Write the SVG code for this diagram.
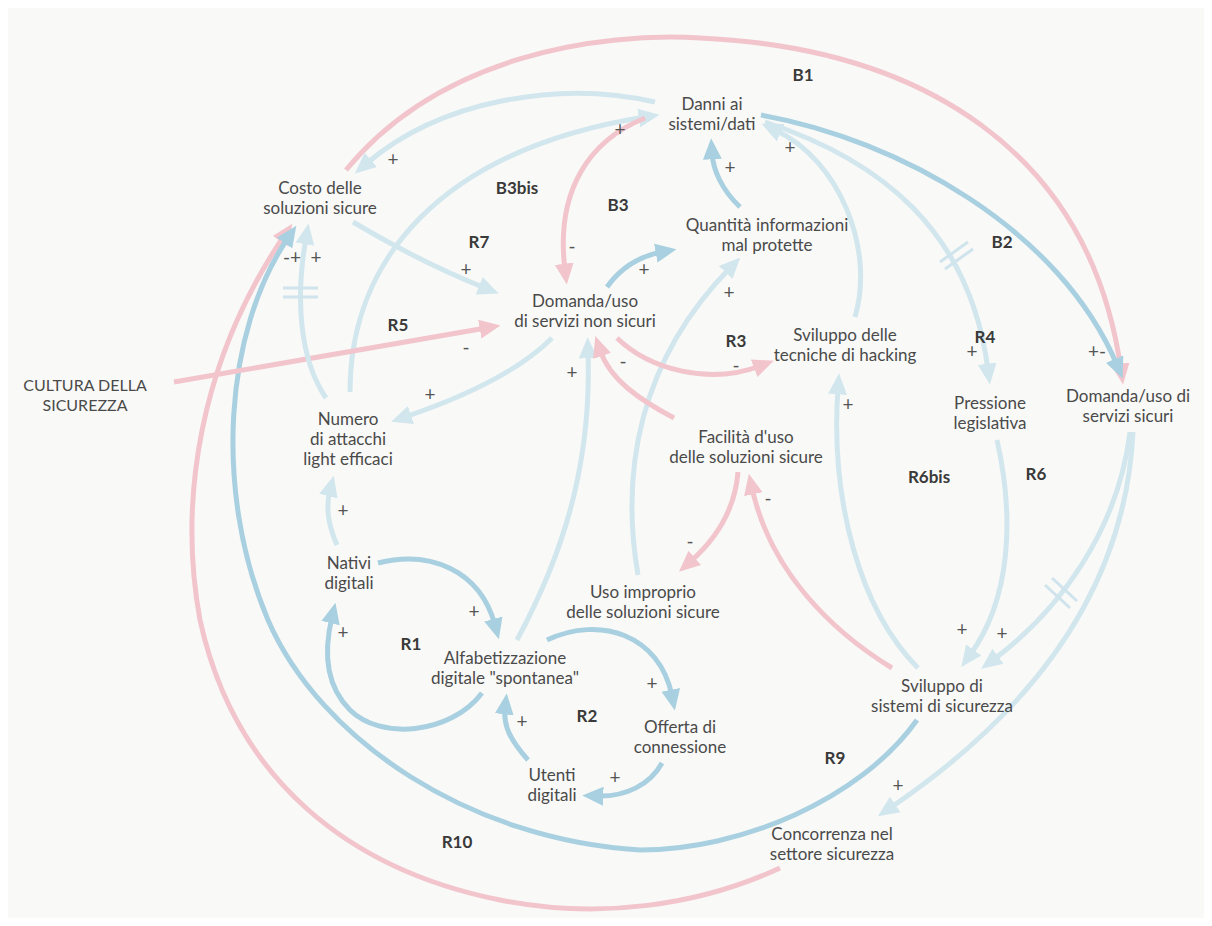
<svg xmlns="http://www.w3.org/2000/svg" width="1212" height="926" viewBox="0 0 1212 926">
<style>
.t{font-family:Lato,"Open Sans","Liberation Sans",sans-serif;font-size:17px;fill:#4a4a4a;text-anchor:middle}
.c{font-family:Lato,"Open Sans","Liberation Sans",sans-serif;font-size:16px;fill:#4a4a4a;text-anchor:middle}
.l{font-family:Lato,"Open Sans","Liberation Sans",sans-serif;font-size:17px;font-weight:bold;fill:#3a3a3a;text-anchor:middle}
.s{font-family:Lato,"Open Sans","Liberation Sans",sans-serif;font-size:19px;fill:#555;text-anchor:middle}
.lb{fill:none;stroke:#d2e6ee;stroke-width:5}
.bb{fill:none;stroke:#a8d0e0;stroke-width:5}
.pk{fill:none;stroke:#f2c5cd;stroke-width:5}
.dl{fill:none;stroke:#cfe4ec;stroke-width:3}
</style>
<defs>
<marker id="al" viewBox="0 0 20 20" refX="6" refY="10" markerWidth="21" markerHeight="21" markerUnits="userSpaceOnUse" orient="auto"><path d="M0,1 L20,10 L0,19 z" fill="#d2e6ee"/></marker>
<marker id="ab" viewBox="0 0 20 20" refX="6" refY="10" markerWidth="21" markerHeight="21" markerUnits="userSpaceOnUse" orient="auto"><path d="M0,1 L20,10 L0,19 z" fill="#a8d0e0"/></marker>
<marker id="ap" viewBox="0 0 20 20" refX="6" refY="10" markerWidth="21" markerHeight="21" markerUnits="userSpaceOnUse" orient="auto"><path d="M0,1 L20,10 L0,19 z" fill="#f2c5cd"/></marker>
</defs>
<rect width="1212" height="926" fill="#ffffff"/>
<rect x="8" y="8" width="1196" height="910" fill="#f9f9f7"/>
<g id="connectors">
<path class="pk" d="M346,170 C 440,55 600,32 700,38 C 920,48 1090,150 1121,370" marker-end="url(#ap)"/>
<path class="pk" d="M780,868 C 700,905 600,920 500,900 C 350,870 235,780 200,620 C 178,500 200,360 284,236" marker-end="url(#ap)"/>
<path class="bb" d="M917,720 C 860,800 740,850 640,850 C 470,840 320,740 268,620 C 213,490 225,330 288,238" marker-end="url(#ab)"/>
<path class="lb" d="M655,102 C 560,80 440,100 366,164" marker-end="url(#al)"/>
<path class="lb" d="M350,392 C 350,260 440,150 645,117" marker-end="url(#al)"/>
<path class="pk" d="M645,118 C 590,140 555,190 565,270" marker-end="url(#ap)"/>
<path class="lb" d="M353,222 C 400,250 440,270 485,288" marker-end="url(#al)"/>
<path class="pk" d="M174,382 L486,328" marker-end="url(#ap)"/>
<path class="lb" d="M552,338 C 520,370 470,395 405,417" marker-end="url(#al)"/>
<path class="lb" d="M326,398 C 300,360 295,300 306,238" marker-end="url(#al)"/>
<path class="lb" d="M337,545 C 328,525 326,505 330,490" marker-end="url(#al)"/>
<path class="bb" d="M378,563 C 430,550 480,570 495,625" marker-end="url(#ab)"/>
<path class="bb" d="M482,693 C 450,735 380,740 350,710 C 325,685 324,650 332,617" marker-end="url(#ab)"/>
<path class="bb" d="M547,640 C 600,615 660,635 672,696" marker-end="url(#ab)"/>
<path class="bb" d="M662,763 C 650,785 625,797 597,796" marker-end="url(#ab)"/>
<path class="bb" d="M528,760 C 510,740 503,725 505,708" marker-end="url(#ab)"/>
<path class="lb" d="M517,640 C 560,560 592,470 588,352" marker-end="url(#al)"/>
<path class="lb" d="M638,575 C 620,470 640,360 730,268" marker-end="url(#al)"/>
<path class="bb" d="M607,287 C 622,266 640,256 662,252" marker-end="url(#ab)"/>
<path class="bb" d="M740,207 C 722,190 713,170 712,153" marker-end="url(#ab)"/>
<path class="pk" d="M617,338 C 650,370 710,385 760,366" marker-end="url(#ap)"/>
<path class="pk" d="M674,418 C 640,400 610,380 600,350" marker-end="url(#ap)"/>
<path class="lb" d="M855,317 C 875,250 840,160 775,130" marker-end="url(#al)"/>
<path class="lb" d="M765,122 C 880,160 970,230 988,370" marker-end="url(#al)"/>
<path class="bb" d="M761,115 C 900,140 1060,230 1117,365" marker-end="url(#ab)"/>
<path class="lb" d="M997,440 C 1015,520 1010,600 970,655" marker-end="url(#al)"/>
<path class="lb" d="M1130,432 C 1118,530 1060,610 993,660" marker-end="url(#al)"/>
<path class="lb" d="M1133,432 C 1125,600 1020,720 890,808" marker-end="url(#al)"/>
<path class="lb" d="M918,668 C 860,610 830,500 838,388" marker-end="url(#al)"/>
<path class="pk" d="M892,668 C 830,630 770,570 752,488" marker-end="url(#ap)"/>
<path class="pk" d="M738,472 C 735,510 715,540 690,562" marker-end="url(#ap)"/>
<g id="delays">
<path class="dl" d="M283,288 L318,288 M283,297 L318,297"/>
<path class="dl" d="M940,262 L968,242 M945,269 L973,249"/>
<path class="dl" d="M1045,585 L1070,608 M1052,578 L1077,601"/>
</g>
</g>
<g id="polarity">
<text class="s" x="393" y="166">+</text>
<text class="s" x="620" y="136">+</text>
<text class="s" x="572" y="253">-</text>
<text class="s" x="466" y="276">+</text>
<text class="s" x="466" y="354">-</text>
<text class="s" x="430" y="401">+</text>
<text class="s" x="292" y="264">-+</text>
<text class="s" x="316" y="264">+</text>
<text class="s" x="343" y="517">+</text>
<text class="s" x="474" y="618">+</text>
<text class="s" x="343" y="639">+</text>
<text class="s" x="652" y="690">+</text>
<text class="s" x="615" y="784">+</text>
<text class="s" x="522" y="728">+</text>
<text class="s" x="572" y="379">+</text>
<text class="s" x="729" y="299">+</text>
<text class="s" x="644" y="276">+</text>
<text class="s" x="730" y="174">+</text>
<text class="s" x="736" y="372">-</text>
<text class="s" x="623" y="368">-</text>
<text class="s" x="790" y="154">+</text>
<text class="s" x="972" y="358">+</text>
<text class="s" x="1097" y="358">+-</text>
<text class="s" x="962" y="636">+</text>
<text class="s" x="1002" y="640">+</text>
<text class="s" x="848" y="411">+</text>
<text class="s" x="768" y="505">-</text>
<text class="s" x="690" y="548">-</text>
<text class="s" x="898" y="792">+</text>
</g>
<g id="loops">
<text class="l" x="803" y="81">B1</text>
<text class="l" x="517" y="194">B3bis</text>
<text class="l" x="618" y="211">B3</text>
<text class="l" x="479" y="248">R7</text>
<text class="l" x="1002" y="248">B2</text>
<text class="l" x="398" y="331">R5</text>
<text class="l" x="736" y="347">R3</text>
<text class="l" x="985" y="343">R4</text>
<text class="l" x="929" y="483">R6bis</text>
<text class="l" x="1036" y="480">R6</text>
<text class="l" x="411" y="650">R1</text>
<text class="l" x="587" y="722">R2</text>
<text class="l" x="835" y="764">R9</text>
<text class="l" x="457" y="848">R10</text>
</g>
<g id="danni"><text class="t" x="712" y="110">Danni ai</text><text class="t" x="712" y="130">sistemi/dati</text></g>
<g id="costo"><text class="t" x="320" y="194">Costo delle</text><text class="t" x="320" y="214">soluzioni sicure</text></g>
<g id="quantita"><text class="t" x="767" y="231">Quantità informazioni</text><text class="t" x="767" y="251">mal protette</text></g>
<g id="domanda-non-sicuri"><text class="t" x="585" y="307">Domanda/uso</text><text class="t" x="585" y="327">di servizi non sicuri</text></g>
<g id="hacking"><text class="t" x="845" y="341">Sviluppo delle</text><text class="t" x="845" y="361">tecniche di hacking</text></g>
<g id="cultura"><text class="c" x="85" y="391">CULTURA DELLA</text><text class="c" x="85" y="411">SICUREZZA</text></g>
<g id="numero"><text class="t" x="348" y="425">Numero</text><text class="t" x="348" y="445">di attacchi</text><text class="t" x="348" y="465">light efficaci</text></g>
<g id="pressione"><text class="t" x="990" y="409">Pressione</text><text class="t" x="990" y="429">legislativa</text></g>
<g id="domanda-sicuri"><text class="t" x="1128" y="402">Domanda/uso di</text><text class="t" x="1128" y="422">servizi sicuri</text></g>
<g id="facilita"><text class="t" x="746" y="443">Facilità d'uso</text><text class="t" x="746" y="463">delle soluzioni sicure</text></g>
<g id="nativi"><text class="t" x="349" y="569">Nativi</text><text class="t" x="349" y="589">digitali</text></g>
<g id="uso-improprio"><text class="t" x="643" y="598">Uso improprio</text><text class="t" x="643" y="618">delle soluzioni sicure</text></g>
<g id="alfabetizzazione"><text class="t" x="505" y="664">Alfabetizzazione</text><text class="t" x="505" y="684">digitale "spontanea"</text></g>
<g id="offerta"><text class="t" x="680" y="733">Offerta di</text><text class="t" x="680" y="753">connessione</text></g>
<g id="utenti"><text class="t" x="552" y="781">Utenti</text><text class="t" x="552" y="801">digitali</text></g>
<g id="sviluppo-sistemi"><text class="t" x="942" y="692">Sviluppo di</text><text class="t" x="942" y="712">sistemi di sicurezza</text></g>
<g id="concorrenza"><text class="t" x="832" y="840">Concorrenza nel</text><text class="t" x="832" y="860">settore sicurezza</text></g>
</svg>
